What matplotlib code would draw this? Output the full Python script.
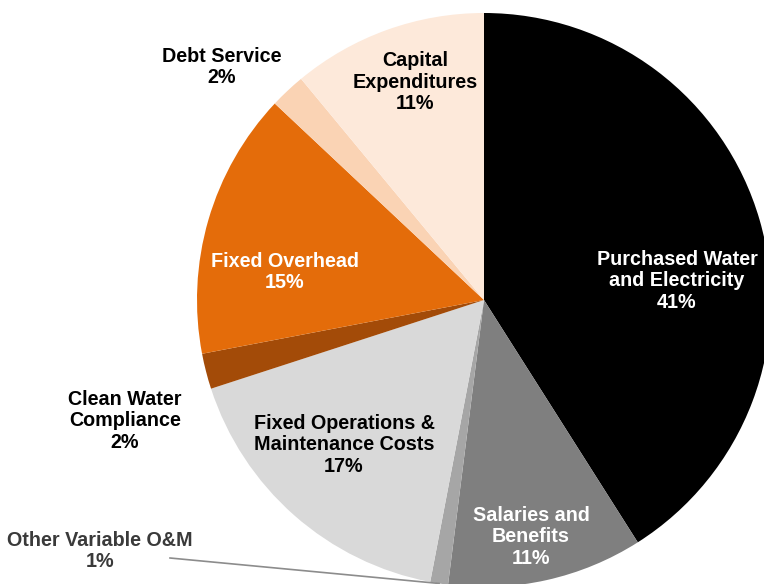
import numpy as np
import matplotlib.pyplot as plt

plt.rcParams['font.family'] = ['Liberation Sans', 'DejaVu Sans']

# slices, clockwise from 12 o'clock
categories = ['Purchased Water\nand Electricity', 'Salaries and\nBenefits',
              'Other Variable O&M', 'Fixed Operations &\nMaintenance Costs',
              'Clean Water\nCompliance', 'Fixed Overhead', 'Debt Service',
              'Capital\nExpenditures']
shares = [41, 11, 1, 17, 2, 15, 2, 11]
colors = ['#000000', '#7f7f7f', '#a6a6a6', '#d9d9d9',
          '#a34b08', '#e46c0a', '#fad3b4', '#fde9da']
text_colors = ['white', 'white', '#3a3a3a', 'black',
               'black', 'white', 'black', 'black']

# label anchor points in pixel space (x, y from top)
label_pos = [(677, 281), (531, 537), (100, 551), (344, 445),
             (125, 421), (285, 272), (222, 67), (415, 82)]

W, H = 764, 584
cx, cy, R = 484, 300, 287

fig = plt.figure(figsize=(W / 100, H / 100), dpi=100)
ax = fig.add_axes([0, 0, 1, 1])

wedges, _ = ax.pie(shares, colors=colors, startangle=90, counterclock=False,
                   center=(cx, H - cy), radius=R, frame=True,
                   wedgeprops=dict(linewidth=0))
ax.set_xlim(0, W)
ax.set_ylim(0, H)
ax.set_aspect('equal')
ax.axis('off')

for name, val, col, (x, y) in zip(categories, shares, text_colors, label_pos):
    ax.text(x, H - y, f'{name}\n{val}%', ha='center', va='center',
            color=col, fontsize=14.2, fontweight='bold', linespacing=1.17)

# leader line for the thin slice
w = wedges[2]
mid = np.deg2rad((w.theta1 + w.theta2) / 2)
ex, ey = cx + R * np.cos(mid), (H - cy) + R * np.sin(mid)
ax.plot([170, ex], [H - 558, ey], color='#8c8c8c', lw=1.2)

fig.savefig('out.png', dpi=100)
